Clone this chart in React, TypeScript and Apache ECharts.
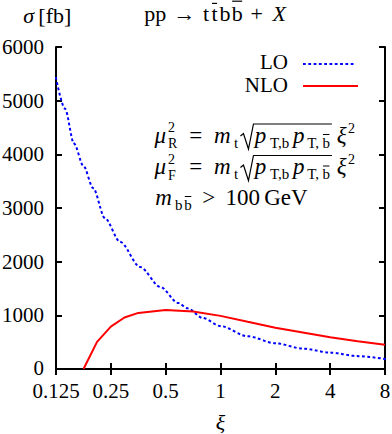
import React, { useEffect, useRef } from 'react';
import * as echarts from 'echarts';

// ---- data ----
const xiTicks = [0.125, 0.25, 0.5, 1, 2, 4, 8];
const sigmaTicks = [0, 1000, 2000, 3000, 4000, 5000, 6000];

const loXi = [0.125, 0.14, 0.157, 0.177, 0.2, 0.232, 0.281, 0.362, 0.467, 0.586, 0.66, 0.8, 1, 1.41, 2, 2.83, 4, 5.66, 8];
const loSigma = [5420, 4850, 4200, 3780, 3370, 2810, 2370, 1900, 1530, 1230, 1130, 950, 800, 610, 480, 380, 305, 240, 187];

const nloXi = [0.177, 0.21, 0.25, 0.297, 0.354, 0.5, 0.707, 1, 1.41, 2, 2.83, 4, 5.66, 8];
const nloSigma = [0, 505, 790, 960, 1045, 1100, 1070, 990, 880, 770, 680, 590, 515, 450];

const FONT = "'Liberation Serif', 'DejaVu Serif', serif";
const K = 0.34; // central-baseline offset

let mctx: CanvasRenderingContext2D | null = null;
function tw(text: string, size: number, italic = false): number {
  if (!mctx) mctx = document.createElement('canvas').getContext('2d');
  mctx!.font = `${italic ? 'italic ' : ''}${size}px ${FONT}`;
  return mctx!.measureText(text).width;
}

function textEl(x: number, base: number, text: string, size: number, italic = false, align = 'left') {
  return {
    type: 'text',
    x,
    y: base - K * size,
    silent: true,
    style: {
      text,
      fill: '#000',
      fontFamily: FONT,
      fontSize: size,
      lineHeight: size,
      fontStyle: italic ? 'italic' : 'normal',
      align,
      verticalAlign: 'middle',
    },
  };
}

function lineEl(x1: number, y1: number, x2: number, y2: number, w = 1.1) {
  return { type: 'line', silent: true, shape: { x1, y1, x2, y2 }, style: { stroke: '#000', lineWidth: w } };
}

type Item = any;

// items: {t, s, i, dy, a(advance px)} | {g} | {sup, sub, s, a} | {bar, s, dy, a} | {sqrt:[...], rw, top}
function layout(x0: number, base: number, items: Item[]): { els: any[]; x: number } {
  const els: any[] = [];
  let x = x0;
  for (const it of items) {
    if (it.g !== undefined) {
      x += it.g;
    } else if (it.sup !== undefined) {
      const s = it.s;
      const a = it.a ?? Math.max(tw(it.sup, s), tw(it.sub, s));
      els.push(textEl(x + 0.5, base - 10.5, it.sup, s));
      els.push(textEl(x + 0.5, base + 5.5, it.sub, s));
      x += a;
    } else if (it.bar !== undefined) {
      const s = it.s;
      const dy = it.dy || 0;
      const w = tw(it.bar, s, !!it.i);
      const a = it.a ?? w;
      const gx = x + (a - w) / 2;
      els.push(textEl(gx, base + dy, it.bar, s, !!it.i));
      const h = it.bar === 't' ? 0.8 * s : 0.9 * s;
      els.push(lineEl(gx + 0.5, base + dy - h, gx + w - 0.5, base + dy - h, s > 18 ? 1.2 : 1));
      x += a;
    } else if (it.sqrt !== undefined) {
      const sx = x;
      const rw = it.rw;
      x += rw;
      const inner = layout(x, base, it.sqrt);
      els.push(...inner.els);
      x = inner.x + 1;
      const top = base - it.top;
      els.push({
        type: 'polyline',
        silent: true,
        shape: {
          points: [[sx + 1, base - 7], [sx + 4, base - 9.5], [sx + 9, base + 6], [sx + rw - 1, top], [x, top]],
        },
        style: { stroke: '#000', lineWidth: 1.2, fill: null, lineJoin: 'miter' },
      });
    } else {
      const s = it.s;
      const dy = it.dy || 0;
      const w = tw(it.t, s, !!it.i);
      const a = it.a ?? w;
      els.push(textEl(x + (a - w) / 2, base + dy, it.t, s, !!it.i));
      x += a;
    }
  }
  return { els, x };
}

function buildGraphics() {
  const els: any[] = [];

  // title (CM-like advances at em = 22)
  const T = 22;
  els.push(
    ...layout(143, 21, [
      { t: 'pp', s: T, a: 1.112 * T }, { g: 0.278 * T }, { t: '→', s: T, a: 1.0 * T }, { g: 0.278 * T },
      { t: 't', s: T, a: 0.389 * T }, { bar: 't', s: T, a: 0.389 * T },
      { t: 'b', s: T, a: 0.556 * T }, { bar: 'b', s: T, a: 0.556 * T }, { g: 0.222 * T },
      { t: '+', s: T, a: 0.778 * T }, { g: 0.222 * T }, { t: 'X', s: T, i: true, a: 0.828 * T },
    ]).els
  );
  // y unit
  els.push(
    ...layout(22, 23, [
      { t: 'σ', s: T, i: true, a: 0.6 * T }, { g: 4 }, { t: '[fb]', s: T, a: 1.418 * T },
    ]).els
  );

  // formulas (CM-like advances at em = 24, glyphs 23)
  const E = 24;
  const G = 23;
  const S = 15;
  const SS = 14;
  const SE = 0.7 * E;
  const muLine = (sub: string, base: number) =>
    layout(153, base, [
      { t: 'μ', s: G, i: true, a: 0.603 * E },
      { sup: '2', sub, s: SS, a: 0.736 * SE },
      { g: 0.278 * E }, { t: '=', s: G, a: 0.778 * E }, { g: 0.278 * E },
      { t: 'm', s: G, i: true, a: 0.878 * E }, { t: 't', s: S, dy: 5, a: 0.389 * SE },
      {
        sqrt: [
          { t: 'p', s: G, i: true, a: 0.503 * E }, { t: 'T,b', s: S, dy: 5, a: 1.556 * SE },
          { t: 'p', s: G, i: true, a: 0.503 * E }, { t: 'T,', s: S, dy: 5, a: 1.0 * SE },
          { bar: 'b', s: S, dy: 5, a: 0.556 * SE },
        ],
        rw: 15,
        top: 19,
      },
      { g: 4 }, { t: 'ξ', s: G, i: true, a: 0.438 * E + 1 }, { t: '2', s: SS, dy: -10, a: 0.5 * SE },
    ]).els;
  els.push(...muLine('R', 143));
  els.push(...muLine('F', 174.5));
  els.push(
    ...layout(153, 205, [
      { t: 'm', s: G, i: true, a: 0.878 * E },
      { t: 'b', s: S, dy: 5, a: 0.556 * SE }, { bar: 'b', s: S, dy: 5, a: 0.556 * SE },
      { g: 0.278 * E }, { t: '>', s: G, a: 0.778 * E }, { g: 0.278 * E },
      { t: '100', s: G, a: 1.5 * E }, { g: 0.167 * E }, { t: 'GeV', s: G, a: 1.757 * E },
    ]).els
  );

  // legend
  const lx = 288;
  els.push(textEl(lx, 69, 'LO', 21, false, 'right'));
  els.push(textEl(lx, 92, 'NLO', 21, false, 'right'));
  els.push({
    type: 'line', silent: true, shape: { x1: 304, y1: 64, x2: 357, y2: 64 },
    style: { stroke: '#0000ff', lineWidth: 2, lineDash: [0.8, 4.5], lineCap: 'square' },
  });
  els.push({
    type: 'line', silent: true, shape: { x1: 303, y1: 86, x2: 358, y2: 86 },
    style: { stroke: '#ff0000', lineWidth: 2 },
  });
  return els;
}

const fmtXi = (v: number) => {
  const r = +(+v).toPrecision(6);
  return xiTicks.some((t) => Math.abs(t - r) < 1e-9) ? String(r) : '';
};

const fmtSigma = (v: number) => (v === 0 ? '{z|0}' : String(v));

export default function App() {
  const ref = useRef<HTMLDivElement>(null);
  useEffect(() => {
    if (!ref.current) return;
    const chart = echarts.init(ref.current, undefined, { renderer: 'svg' });
    const axisLine = { show: true, lineStyle: { color: '#000', width: 2 } };
    const axisTick = { show: true, inside: true, length: 6, lineStyle: { color: '#000', width: 2 } };
    const label = { color: '#000', fontFamily: FONT, fontSize: 21, lineHeight: 18 };
    const xBase = {
      type: 'log', logBase: 2, min: xiTicks[0], max: xiTicks[xiTicks.length - 1],
      splitNumber: 6, axisLine, axisTick, splitLine: { show: false }, minorTick: { show: false },
    };
    const yBase = {
      type: 'value', min: sigmaTicks[0], max: sigmaTicks[sigmaTicks.length - 1], interval: 1000,
      axisLine, axisTick, splitLine: { show: false },
    };
    chart.setOption({
      animation: false,
      backgroundColor: '#fff',
      grid: { left: 56, right: 7, top: 47, bottom: 65, containLabel: false, outerBoundsMode: 'none' },
      xAxis: [
        {
          ...xBase, position: 'bottom',
          axisLabel: { ...label, margin: 13, formatter: fmtXi },
          name: 'ξ', nameLocation: 'middle', nameGap: 42,
          nameTextStyle: { color: '#000', fontFamily: FONT, fontSize: 22, fontStyle: 'italic' },
        },
        { ...xBase, position: 'top', axisLabel: { show: false } },
      ],
      yAxis: [
        {
          ...yBase, position: 'left',
          axisLabel: {
            ...label, margin: 12, formatter: fmtSigma,
            rich: { z: { color: '#000', fontFamily: FONT, fontSize: 21, lineHeight: 18, padding: [0, 0, 3, 0] } },
          },
        },
        { ...yBase, position: 'right', axisLabel: { show: false } },
      ],
      series: [
        {
          name: 'LO', type: 'line', xAxisIndex: 0, yAxisIndex: 0,
          data: loXi.map((x, i) => [x, loSigma[i]]),
          symbol: 'none', showSymbol: false, smooth: 0.3, smoothMonotone: 'x',
          lineStyle: { color: '#0000ff', width: 2, type: [0.8, 4.5], cap: 'square' },
          z: 3,
        },
        {
          name: 'NLO', type: 'line', xAxisIndex: 0, yAxisIndex: 0,
          data: nloXi.map((x, i) => [x, nloSigma[i]]),
          symbol: 'none', showSymbol: false,
          lineStyle: { color: '#ff0000', width: 2 },
          z: 4,
        },
      ],
      graphic: buildGraphics(),
    });
    return () => chart.dispose();
  }, []);
  return <div ref={ref} style={{ width: 392, height: 434, position: 'absolute', left: 0, top: 0 }} />;
}
